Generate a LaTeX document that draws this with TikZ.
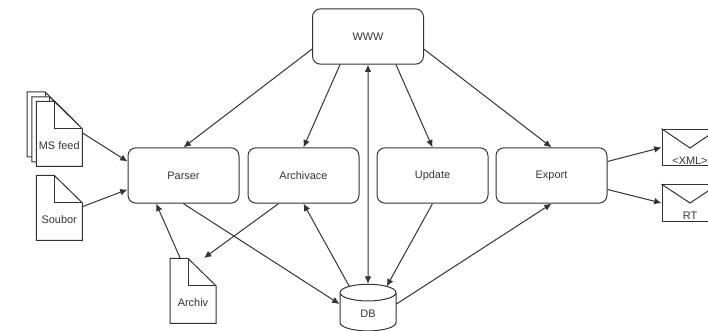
\documentclass[tikz,border=0pt]{standalone}
\usepackage{fontspec}
\setmainfont{Liberation Sans}
\usetikzlibrary{shapes.geometric, arrows.meta}

\tikzset{
	every node/.style={font=\fontsize{8.2}{10}\selectfont, text=black!80},
	line/.style={draw=black!80, line width=0.75pt},
	conn/.style={line, -{Latex[length=5.5pt,width=5pt]}},
	modul/.style={line, rounded corners=6pt, minimum width=83.25pt, minimum height=41.5pt, inner sep=0pt},
	doclower/.style={minimum width=34.1pt, minimum height=27.75pt, inner sep=0pt},
	envelope/.style={line, minimum width=42pt, minimum height=27.5pt, inner sep=0pt},
	envtext/.style={anchor=south, inner sep=1.5pt, font=\fontsize{8.2}{10}\selectfont, text=black!80},
	store/.style={line, cylinder, shape border rotate=90, aspect=1.1, minimum width=42pt, minimum height=35pt, inner sep=0pt}
}

\newcommand{\docsheet}[1]{
	\draw[line, fill=white] (#1.south west) -- ([yshift=20.5pt]#1.north west) -- ([shift={(13.5pt,20.5pt)}]#1.north west) -- (#1.north east) -- (#1.south east) -- cycle;
	\draw[line] ([shift={(13.5pt,20.5pt)}]#1.north west) -- ([xshift=13.5pt]#1.north west) -- (#1.north east);
}

\begin{document}
\begin{tikzpicture}[x=0.75pt, y=-0.75pt]
	\useasboundingbox (0, 0) rectangle (708, 331);

	%Top
	\node[modul] (www) at (368, 36.5) {WWW};

	%Modules
	\node[modul] (parser) at (183.5, 175.5) {Parser};
	\node[modul] (archivace) at (303.5, 175.5) {Archivace};
	\node[modul] (update) at (432.5, 175.5) {Update};
	\node[modul] (export) at (551.5, 175.5) {Export};

	%Database
	\node[store] (db) at (368, 312) {\raisebox{-4pt}[0pt][0pt]{DB}};

	%Input files
	\node[doclower] (msback) at (50, 138) {};
	\docsheet{msback}
	\node[doclower] (msmid) at (54.75, 143) {};
	\docsheet{msmid}
	\node[doclower] (msfeed) at (59.25, 147.5) {};
	\docsheet{msfeed}
	\node (msfeedtext) at (59.25, 146) {MS feed};
	\node[doclower] (soubor) at (59.25, 221.5) {};
	\docsheet{soubor}
	\node (soubortext) at (59.25, 220) {Soubor};
	\node[doclower] (archiv) at (193, 304.5) {};
	\docsheet{archiv}
	\node (archivtext) at (193, 303) {Archiv};
	\coordinate (archivin) at (204, 258);

	%Outputs
	\node[envelope, label={[envtext]south:{<XML>}}] (xml) at (690, 147.5) {};
	\draw[line] (xml.north west) -- (690, 148) -- (xml.north east);
	\node[envelope, label={[envtext]south:{RT}}] (rt) at (690, 203) {};
	\draw[line] (rt.north west) -- (690, 203) -- (rt.north east);

	%Lines
	\draw[conn] ([yshift=-3pt]msfeed.north east) -- ([yshift=10.5pt]parser.west);
	\draw[conn] ([yshift=-3pt]soubor.north east) -- ([yshift=-10.5pt]parser.west);
	\draw[conn] ([shift={(7.5pt,21pt)}]archiv.north west) -- ([xshift=-20.5pt]parser.south);
	\draw[conn] (parser.south) -- ([yshift=6pt]db.west);
	\draw[conn] ([xshift=-18.75pt]archivace.south) -- (archivin);
	\draw[conn] ([yshift=-9.5pt]www.west) -- (parser.north);
	\draw[conn] ([xshift=-21pt]www.south) -- (archivace.north);
	\draw[conn, {Latex[length=5.5pt,width=5pt]}-{Latex[length=5.5pt,width=5pt]}] (www.south) -- (db.north);
	\draw[conn] ([xshift=21pt]www.south) -- (update.north);
	\draw[conn] ([yshift=-9.5pt]www.east) -- (export.north);
	\draw[conn] (update.south) -- ([shift={(14pt,-2pt)}]db.north);
	\draw[conn] ([shift={(-14pt,-2pt)}]db.north) -- (archivace.south);
	\draw[conn] ([yshift=6pt]db.east) -- (export.south);
	\draw[conn] ([yshift=10.5pt]export.east) -- (xml.west);
	\draw[conn] ([yshift=-10.5pt]export.east) -- (rt.west);
\end{tikzpicture}
\end{document}
